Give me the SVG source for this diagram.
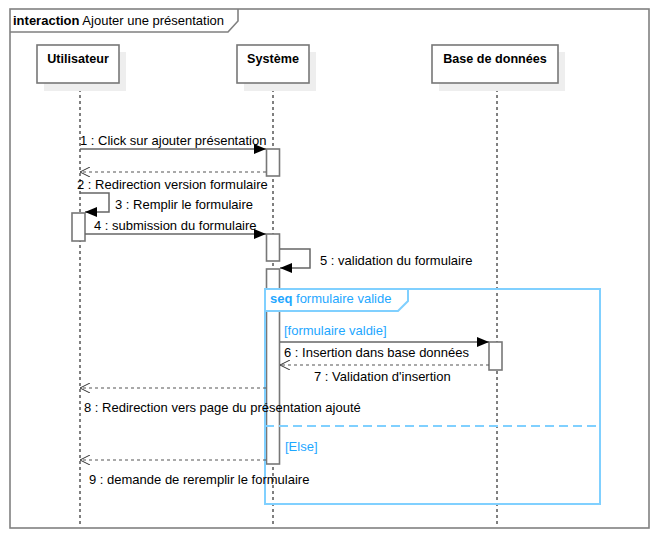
<svg xmlns="http://www.w3.org/2000/svg" width="659" height="539" viewBox="0 0 659 539">
<style>
text{font-family:"Liberation Sans",Arial,sans-serif;font-size:13px;fill:#000}
.b{font-weight:bold}
.hd{font-weight:bold;font-size:12.6px}
.blue{fill:#1ea7ff}
.frame{fill:none;stroke:#808080;stroke-width:1.6}
.head{fill:#fff;stroke:#777;stroke-width:1.6}
.shadow{fill:#eeeeee}
.life{stroke:#000;stroke-width:1;stroke-dasharray:3,3;fill:none}
.act{fill:#fff;stroke:#777;stroke-width:1.6}
.msg{stroke:#666;stroke-width:1.5;fill:none}
.ret{stroke:#555;stroke-width:1.2;stroke-dasharray:3,3;fill:none}
.frag{fill:none;stroke:#80d0ff;stroke-width:2}
</style>
<defs>
<marker id="fill" markerWidth="12" markerHeight="10" refX="12" refY="5" orient="auto" markerUnits="userSpaceOnUse">
<path d="M0,0 L12,5 L0,10 Z" fill="#000"/>
</marker>
<marker id="open" markerWidth="10" markerHeight="10" refX="10" refY="5" orient="auto" markerUnits="userSpaceOnUse">
<path d="M0,0 L10,5 L0,10" fill="none" stroke="#333" stroke-width="1"/>
</marker>
</defs>
<rect x="0" y="0" width="659" height="539" fill="#fff"/>
<g id="frame">
<rect class="frame" x="10" y="9" width="639" height="519"/>
<path class="frame" d="M10,32 L228,32 L238,21 L238,9"/>
<text x="13" y="25"><tspan class="b">interaction</tspan> Ajouter une présentation</text>
</g>
<g id="lifelines">
<line class="life" x1="80" y1="83" x2="80" y2="525"/>
<line class="life" x1="273" y1="83" x2="273" y2="525"/>
<line class="life" x1="497" y1="83" x2="497" y2="525"/>
</g>
<g id="utilisateur">
<rect class="shadow" x="44" y="52" width="82" height="39"/>
<rect class="head" x="37" y="45" width="82" height="38"/>
<text class="hd" x="78" y="63" text-anchor="middle">Utilisateur</text>
</g>
<g id="systeme">
<rect class="shadow" x="244" y="52" width="72" height="39"/>
<rect class="head" x="237" y="45" width="72" height="38"/>
<text class="hd" x="273" y="63" text-anchor="middle">Système</text>
</g>
<g id="bdd">
<rect class="shadow" x="439" y="52" width="126" height="39"/>
<rect class="head" x="432" y="45" width="126" height="38"/>
<text class="hd" x="495" y="63" text-anchor="middle">Base de données</text>
</g>
<g id="activations">
<rect class="act" x="266.5" y="149" width="13" height="27"/>
<rect class="act" x="72" y="213" width="13" height="28"/>
<rect class="act" x="266.5" y="234" width="13" height="27"/>
<rect class="act" x="266.5" y="269" width="13" height="195"/>
<rect class="act" x="489" y="342" width="13" height="28"/>
</g>
<g id="fragment">
<rect class="frag" x="265" y="289" width="335" height="215"/>
<path d="M265,311 L398,311 L408,301 L408,289 L265,289 Z" fill="#fff" stroke="#80d0ff" stroke-width="2"/>
<line x1="265" y1="426" x2="600" y2="426" stroke="#80d0ff" stroke-width="2" stroke-dasharray="9,5"/>
<text class="blue" x="270" y="303"><tspan class="b">seq</tspan> formulaire valide</text>
<text class="blue" x="284" y="335">[formulaire valdie]</text>
<text class="blue" x="285" y="451">[Else]</text>
</g>
<g id="connectors">
<line class="msg" x1="80" y1="149" x2="266" y2="149" marker-end="url(#fill)"/>
<line class="ret" x1="266" y1="172" x2="80" y2="172" marker-end="url(#open)"/>
<path class="msg" d="M80,193 L109,193 L109,212 L85,212" marker-end="url(#fill)"/>
<line class="msg" x1="85" y1="234" x2="266" y2="234" marker-end="url(#fill)"/>
<path class="msg" d="M280,249 L310,249 L310,268 L280,268" marker-end="url(#fill)"/>
<line class="msg" x1="280" y1="342" x2="489" y2="342" marker-end="url(#fill)"/>
<line class="ret" x1="489" y1="365" x2="280" y2="365" marker-end="url(#open)"/>
<line class="ret" x1="266" y1="388" x2="80" y2="388" marker-end="url(#open)"/>
<line class="ret" x1="266" y1="460" x2="80" y2="460" marker-end="url(#open)"/>
</g>
<g id="labels">
<text x="80" y="145">1 : Click sur ajouter présentation</text>
<text x="77" y="189">2 : Redirection version formulaire</text>
<text x="115" y="209">3 : Remplir le formulaire</text>
<text x="94" y="230">4 : submission du formulaire</text>
<text x="320" y="265">5 : validation du formulaire</text>
<text x="284" y="357">6 : Insertion dans base données</text>
<text x="314" y="381">7 : Validation d'insertion</text>
<text x="84" y="412">8 : Redirection vers page du présentation ajouté</text>
<text x="89" y="484">9 : demande de reremplir le formulaire</text>
</g>
</svg>
